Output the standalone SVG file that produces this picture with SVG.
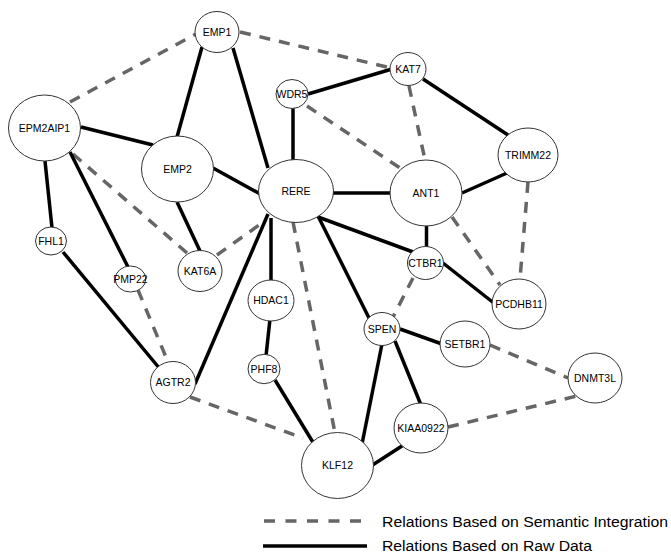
<svg xmlns="http://www.w3.org/2000/svg" width="671" height="552" viewBox="0 0 671 552">
<style>
.raw{stroke:#000;stroke-width:3.5;fill:none}
.sem{stroke:#666;stroke-width:3.5;fill:none;stroke-dasharray:11 9}
.node ellipse{fill:#fff;stroke:#333;stroke-width:1}
.node text{font-family:"Liberation Sans",Arial,sans-serif;font-size:10.5px;fill:#000;text-anchor:middle}
.leg{font-family:"Liberation Sans",Arial,sans-serif;font-size:14px;fill:#000}
</style>
<rect width="671" height="552" fill="#fff"/>
<g id="connectors">
<line class="sem" x1="70" y1="102" x2="196" y2="34"/>
<line class="sem" x1="240" y1="32" x2="391" y2="68"/>
<line class="sem" x1="307" y1="106" x2="400" y2="168"/>
<line class="sem" x1="409" y1="86" x2="425" y2="160"/>
<line class="sem" x1="528" y1="182" x2="520" y2="279"/>
<line class="sem" x1="452" y1="217" x2="500" y2="285"/>
<line class="sem" x1="73" y1="154" x2="187" y2="253"/>
<line class="sem" x1="217" y1="255" x2="262" y2="223"/>
<line class="sem" x1="293" y1="222" x2="335" y2="433"/>
<line class="sem" x1="413" y1="278" x2="393" y2="317"/>
<line class="sem" x1="138" y1="290" x2="168" y2="362"/>
<line class="sem" x1="190" y1="397" x2="303" y2="438"/>
<line class="sem" x1="490" y1="345" x2="568" y2="378"/>
<line class="sem" x1="448" y1="427" x2="577" y2="396"/>
<line class="raw" x1="202" y1="47" x2="177" y2="137"/>
<line class="raw" x1="233" y1="48" x2="268" y2="168"/>
<line class="raw" x1="81" y1="127" x2="153" y2="145"/>
<line class="raw" x1="45" y1="161" x2="52" y2="228"/>
<line class="raw" x1="70" y1="152" x2="128" y2="267"/>
<line class="raw" x1="213" y1="168" x2="262" y2="195"/>
<line class="raw" x1="177" y1="202" x2="200" y2="251"/>
<line class="raw" x1="308" y1="94" x2="392" y2="69"/>
<line class="raw" x1="293" y1="108" x2="293" y2="162"/>
<line class="raw" x1="423" y1="79" x2="508" y2="135"/>
<line class="raw" x1="462" y1="193" x2="507" y2="173"/>
<line class="raw" x1="328" y1="193" x2="392" y2="193"/>
<line class="raw" x1="318" y1="217" x2="413" y2="252"/>
<line class="raw" x1="426.5" y1="224" x2="426.5" y2="248"/>
<line class="raw" x1="443" y1="263" x2="495" y2="304"/>
<line class="raw" x1="318" y1="216" x2="370" y2="320"/>
<line class="raw" x1="271" y1="218" x2="271" y2="282"/>
<line class="raw" x1="268" y1="214" x2="195" y2="384"/>
<line class="raw" x1="63" y1="252" x2="160" y2="369"/>
<line class="raw" x1="270" y1="319" x2="266" y2="356"/>
<line class="raw" x1="275" y1="380" x2="314" y2="444"/>
<line class="raw" x1="400" y1="329" x2="442" y2="344"/>
<line class="raw" x1="382" y1="344" x2="362" y2="444"/>
<line class="raw" x1="395" y1="341" x2="421" y2="405"/>
<line class="raw" x1="405" y1="444" x2="371" y2="466"/>
</g>
<g id="EMP1" class="node"><ellipse cx="217" cy="32" rx="22" ry="20.5"/><text x="217" y="35.8">EMP1</text></g>
<g id="EPM2AIP1" class="node"><ellipse cx="44.5" cy="128" rx="36" ry="33"/><text x="44.5" y="131.8">EPM2AIP1</text></g>
<g id="EMP2" class="node"><ellipse cx="177.5" cy="169" rx="36" ry="33"/><text x="177.5" y="172.8">EMP2</text></g>
<g id="RERE" class="node"><ellipse cx="296" cy="191" rx="37.5" ry="31.5"/><text x="296" y="194.8">RERE</text></g>
<g id="WDR5" class="node"><ellipse cx="292" cy="94" rx="16" ry="14.5"/><text x="292" y="97.8">WDR5</text></g>
<g id="KAT7" class="node"><ellipse cx="408" cy="69" rx="18" ry="16.5"/><text x="408" y="72.8">KAT7</text></g>
<g id="TRIMM22" class="node"><ellipse cx="528" cy="155" rx="30" ry="27"/><text x="528" y="158.8">TRIMM22</text></g>
<g id="ANT1" class="node"><ellipse cx="426" cy="193" rx="36" ry="33"/><text x="426" y="196.8">ANT1</text></g>
<g id="CTBR1" class="node"><ellipse cx="425.5" cy="263" rx="18" ry="16.5"/><text x="425.5" y="266.8">CTBR1</text></g>
<g id="PCDHB11" class="node"><ellipse cx="519" cy="304" rx="27" ry="25"/><text x="519" y="307.8">PCDHB11</text></g>
<g id="FHL1" class="node"><ellipse cx="51" cy="241" rx="15.5" ry="14"/><text x="51" y="244.8">FHL1</text></g>
<g id="KAT6A" class="node"><ellipse cx="200" cy="271" rx="22" ry="20.5"/><text x="200" y="274.8">KAT6A</text></g>
<g id="PMP22" class="node"><ellipse cx="130.5" cy="279" rx="15.3" ry="13"/><text x="130.5" y="282.8">PMP22</text></g>
<g id="HDAC1" class="node"><ellipse cx="271" cy="300.5" rx="23" ry="20.5"/><text x="271" y="304.3">HDAC1</text></g>
<g id="PHF8" class="node"><ellipse cx="264" cy="369" rx="16" ry="14.7"/><text x="264" y="372.8">PHF8</text></g>
<g id="AGTR2" class="node"><ellipse cx="173" cy="382.5" rx="22.5" ry="21"/><text x="173" y="386.3">AGTR2</text></g>
<g id="SPEN" class="node"><ellipse cx="382" cy="329" rx="18" ry="16.5"/><text x="382" y="332.8">SPEN</text></g>
<g id="SETBR1" class="node"><ellipse cx="465" cy="344" rx="25" ry="23"/><text x="465" y="347.8">SETBR1</text></g>
<g id="DNMT3L" class="node"><ellipse cx="595" cy="378" rx="27" ry="25"/><text x="595" y="381.8">DNMT3L</text></g>
<g id="KIAA0922" class="node"><ellipse cx="421" cy="428" rx="27" ry="25"/><text x="421" y="431.8">KIAA0922</text></g>
<g id="KLF12" class="node"><ellipse cx="337.5" cy="465.5" rx="36" ry="33"/><text x="337.5" y="469.3">KLF12</text></g>
<g id="legend">
<line x1="264" y1="521" x2="362" y2="521" stroke="#666" stroke-width="3.5" stroke-dasharray="11 10.5"/>
<line x1="263" y1="546" x2="367" y2="546" stroke="#000" stroke-width="3.5"/>
<text class="leg" x="382" y="526.5" textLength="286" lengthAdjust="spacingAndGlyphs">Relations Based on Semantic Integration</text>
<text class="leg" x="382" y="550.5" textLength="210" lengthAdjust="spacingAndGlyphs">Relations Based on Raw Data</text>
</g>
</svg>
